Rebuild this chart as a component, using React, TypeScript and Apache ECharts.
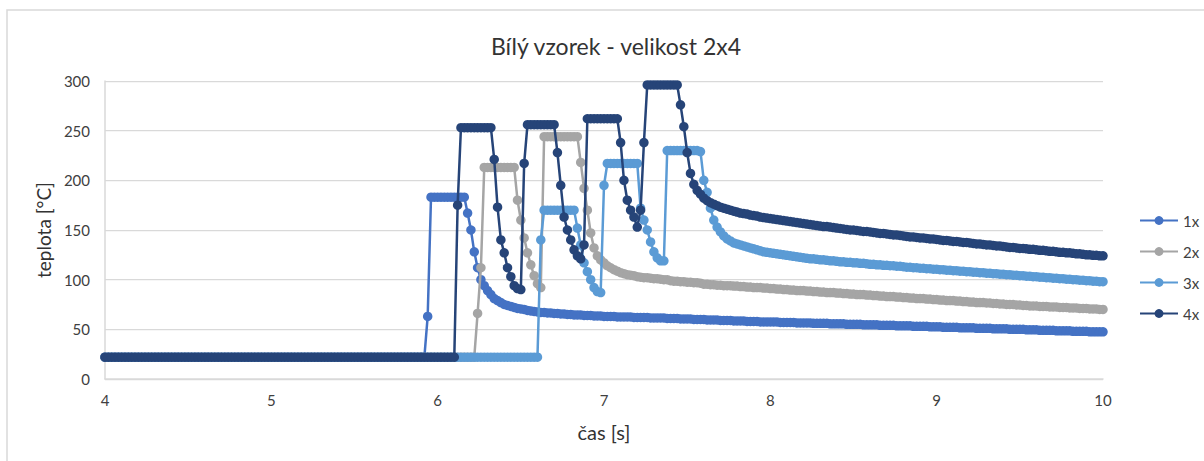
import React, { useEffect, useRef } from "react";
import * as echarts from "echarts";

// sampling grid of the measurement
const T0 = 4;
const DT = 0.02;

const seriesNames = ["1x", "2x", "3x", "4x"];
const seriesColors = ["#4472C4", "#A5A5A5", "#5B9BD5", "#264478"];
const xTicks = { min: 4, max: 10, interval: 1 };
const yTicks = { min: 0, max: 300, interval: 50 };

const v1x = [
  22,22,22,22,22,22,22,22,22,22,
  22,22,22,22,22,22,22,22,22,22,
  22,22,22,22,22,22,22,22,22,22,
  22,22,22,22,22,22,22,22,22,22,
  22,22,22,22,22,22,22,22,22,22,
  22,22,22,22,22,22,22,22,22,22,
  22,22,22,22,22,22,22,22,22,22,
  22,22,22,22,22,22,22,22,22,22,
  22,22,22,22,22,22,22,22,22,22,
  22,22,22,22,22,22,22,63,183,183,
  183,183,183,183,183,183,183,183,183,167,
  150,128,112,100,94,89,85,81,79,77,
  75,74,73,72,71,70.5,70,69,68.5,68,
  67.5,67,67,66.5,66.5,66,66,65.5,65.5,65,
  65,64.5,64.5,64.5,64,64,64,63.5,63.5,63.5,
  63,63,63,63,62.5,62.5,62.5,62.5,62.5,62,
  62,62,62,62,61.5,61.5,61.5,61.5,61.5,61,
  61,61,61,60.5,60.5,60.5,60.5,60,60,60,
  60,59.5,59.5,59.5,59.5,59,59,59,59,58.5,
  58.5,58.5,58.5,58,58,58,58,57.5,57.5,57.5,
  57.5,57.5,57.5,57,57,57,57,57,56.5,56.5,
  56.5,56.5,56.5,56,56,56,56,56,55.5,55.5,
  55.5,55.5,55.5,55,55,55,55,55,54.5,54.5,
  54.5,54.5,54.5,54,54,54,54,54,53.5,53.5,
  53.5,53.5,53.5,53,53,53,53,53,52.5,52.5,
  52.5,52.5,52,52,52,52,52,51.5,51.5,51.5,
  51.5,51.5,51,51,51,51,51,50.5,50.5,50.5,
  50.5,50.5,50,50,50,50,50,49.5,49.5,49.5,
  49.5,49,49,49,49,49,48.5,48.5,48.5,48.5,
  48.5,48,48,48,48,48,47.5,47.5,47.5,47.5,
  47.5,
];

const v2x = [
  22,22,22,22,22,22,22,22,22,22,
  22,22,22,22,22,22,22,22,22,22,
  22,22,22,22,22,22,22,22,22,22,
  22,22,22,22,22,22,22,22,22,22,
  22,22,22,22,22,22,22,22,22,22,
  22,22,22,22,22,22,22,22,22,22,
  22,22,22,22,22,22,22,22,22,22,
  22,22,22,22,22,22,22,22,22,22,
  22,22,22,22,22,22,22,22,22,22,
  22,22,22,22,22,22,22,22,22,22,
  22,22,22,22,22,22,22,22,22,22,
  22,22,66,112,213,213,213,213,213,213,
  213,213,213,213,180,160,142,127,115,104,
  96,92,244,244,244,244,244,244,244,244,
  244,244,244,218,192,170,147,132,124,120,
  117,114,112,110,108.5,107,106,105,104.5,104,
  103,102.5,102,102,101.5,101,101,100.5,100,100,
  99,98.5,98.5,98,98,97.5,97.5,97,97,96.5,
  95.5,95.5,95,95,94.5,94.5,94,94,94,93.5,
  93.5,93,93,92.5,92.5,92,92,92,91.5,91.5,
  91,91,90.5,90.5,90,90,89.5,89.5,89,89,
  89,88.5,88.5,88,88,87.5,87.5,87,87,87,
  86.5,86.5,86,86,85.5,85.5,85,85,85,84.5,
  84.5,84,84,83.5,83.5,83,83,83,82.5,82.5,
  82,82,81.5,81.5,81,81,81,80.5,80.5,80,
  80,79.5,79.5,79,79,79,78.5,78.5,78,78,
  77.5,77.5,77,77,77,76.5,76.5,76,76,75.5,
  75.5,75,75,75,74.5,74.5,74,74,73.5,73.5,
  73.5,73,73,73,72.5,72.5,72.5,72,72,72,
  71.5,71.5,71.5,71,71,71,70.5,70.5,70.5,70,
  70,
];

const v3x = [
  22,22,22,22,22,22,22,22,22,22,
  22,22,22,22,22,22,22,22,22,22,
  22,22,22,22,22,22,22,22,22,22,
  22,22,22,22,22,22,22,22,22,22,
  22,22,22,22,22,22,22,22,22,22,
  22,22,22,22,22,22,22,22,22,22,
  22,22,22,22,22,22,22,22,22,22,
  22,22,22,22,22,22,22,22,22,22,
  22,22,22,22,22,22,22,22,22,22,
  22,22,22,22,22,22,22,22,22,22,
  22,22,22,22,22,22,22,22,22,22,
  22,22,22,22,22,22,22,22,22,22,
  22,22,22,22,22,22,22,22,22,22,
  22,140,170,170,170,170,170,170,170,170,
  170,170,152,135,117,108,100,92,88,87,
  195,217,217,217,217,217,217,217,217,217,
  217,172,160,150,138,128,122,119,119,230,
  230,230,230,230,230,230,230,230,230,229,
  200,188,172,160,153,148,144,141,139,137,
  136,135,134,133,132,131,130,129,128,127.5,
  127,126.5,126,125.5,125,124.5,124,123.5,123,122.5,
  122,121.5,121,121,120.5,120,120,119.5,119,119,
  118.5,118,118,117.5,117.5,117,117,116.5,116.5,116,
  115.5,115.5,115,115,114.5,114.5,114,114,113.5,113.5,
  113,112.5,112.5,112,112,111.5,111.5,111,111,110.5,
  110.5,110,110,109.5,109.5,109,109,108.5,108.5,108,
  108,107.5,107.5,107,107,106.5,106.5,106,106,105.5,
  105.5,105,105,104.5,104.5,104,104,103.5,103.5,103,
  103,102.5,102.5,102,102,101.5,101.5,101,101,100.5,
  100.5,100,100,99.5,99.5,99,99,98.5,98.5,98,
  98,
];

const v4x = [
  22,22,22,22,22,22,22,22,22,22,
  22,22,22,22,22,22,22,22,22,22,
  22,22,22,22,22,22,22,22,22,22,
  22,22,22,22,22,22,22,22,22,22,
  22,22,22,22,22,22,22,22,22,22,
  22,22,22,22,22,22,22,22,22,22,
  22,22,22,22,22,22,22,22,22,22,
  22,22,22,22,22,22,22,22,22,22,
  22,22,22,22,22,22,22,22,22,22,
  22,22,22,22,22,22,22,22,22,22,
  22,22,22,22,22,22,175,253,253,253,
  253,253,253,253,253,253,253,221,173,140,
  127,112,103,94,91,90,217,256,256,256,
  256,256,256,256,256,256,228,195,163,150,
  140,130,124,121,135,262,262,262,262,262,
  262,262,262,262,262,238,200,180,170,163,
  153,170,238,296,296,296,296,296,296,296,
  296,296,296,276,254,228,207,196,190,186,
  182,179.5,177.5,176,174.5,173,172,171,170,169,
  168,167,166.5,166,165,164.5,164,163,162.5,162,
  161.5,161,160.5,160,159.5,159,158.5,158,157.5,157,
  156.5,156,155.5,155,154.5,154,153.5,153.5,153,152.5,
  152,151.5,151,150.5,150,150,149.5,149,148.5,148.5,
  148,147.5,147,146.5,146.5,146,145.5,145,145,144.5,
  144,143.5,143,143,142.5,142,142,141.5,141,141,
  140.5,140,139.5,139.5,139,138.5,138.5,138,137.5,137.5,
  137,136.5,136,136,135.5,135,135,134.5,134,134,
  133.5,133,132.5,132.5,132,131.5,131.5,131,130.5,130.5,
  130,129.5,129.5,129,128.5,128.5,128,127.5,127.5,127,
  127,126.5,126,126,125.5,125,125,124.5,124.5,124,
  124,
];

const seriesValues = [v1x, v2x, v3x, v4x];

const FONT = "Lato, 'Open Sans', sans-serif";

export default function App() {
  const ref = useRef<HTMLDivElement>(null);
  useEffect(() => {
    document.body.style.margin = "0";
    if (!ref.current) return;
    const chart = echarts.init(ref.current, null, { renderer: "svg" });
    const series = seriesNames.map((name, k) => ({
      name,
      type: "line",
      data: seriesValues[k].map((v, i) => [T0 + i * DT, v]),
      symbol: "circle",
      symbolSize: 9.5,
      showSymbol: true,
      color: seriesColors[k],
      itemStyle: { color: seriesColors[k] },
      lineStyle: { color: seriesColors[k], width: 2.5 },
      emphasis: { disabled: true },
      z: 2 + k,
    }));
    chart.setOption({
      animation: false,
      backgroundColor: "#ffffff",
      textStyle: { fontFamily: FONT },
      graphic: [
        {
          type: "rect",
          shape: { x: 7, y: 10, width: 1400, height: 600 },
          style: { fill: "none", stroke: "#D9D9D9", lineWidth: 1.5 },
          silent: true,
        },
      ],
      title: {
        text: "Bílý vzorek - velikost 2x4",
        left: 611,
        top: 29,
        textAlign: "center",
        textStyle: { fontFamily: FONT, fontSize: 23, fontWeight: "normal", color: "#333333" },
      },
      legend: {
        orient: "vertical",
        left: 1134,
        top: 208,
        itemWidth: 38,
        itemHeight: 11,
        itemGap: 16,
        textStyle: { fontFamily: FONT, fontSize: 15, color: "#404040" },
        data: seriesNames,
      },
      grid: { left: 105, right: 101, top: 81, bottom: 82, containLabel: false },
      xAxis: {
        type: "value",
        min: xTicks.min,
        max: xTicks.max,
        interval: xTicks.interval,
        name: "čas [s]",
        nameLocation: "middle",
        nameGap: 43,
        nameTextStyle: { fontFamily: FONT, fontSize: 20, color: "#333333" },
        axisLine: { show: true, lineStyle: { color: "#D9D9D9", width: 1.5 } },
        axisTick: { show: false },
        splitLine: { show: false },
        axisLabel: { fontFamily: FONT, fontSize: 15, color: "#404040", margin: 13 },
      },
      yAxis: {
        type: "value",
        min: yTicks.min,
        max: yTicks.max,
        interval: yTicks.interval,
        name: "teplota [°C]",
        nameLocation: "middle",
        nameGap: 44,
        nameRotate: 90,
        nameTextStyle: { fontFamily: FONT, fontSize: 19, color: "#333333" },
        axisLine: { show: true, lineStyle: { color: "#D9D9D9", width: 1.5 } },
        axisTick: { show: false },
        splitLine: { show: true, lineStyle: { color: "#D9D9D9", width: 1.25 } },
        axisLabel: { fontFamily: FONT, fontSize: 15, color: "#404040", margin: 15 },
      },
      series,
    });
    return () => chart.dispose();
  }, []);
  return <div ref={ref} style={{ width: 1204, height: 461 }} />;
}
